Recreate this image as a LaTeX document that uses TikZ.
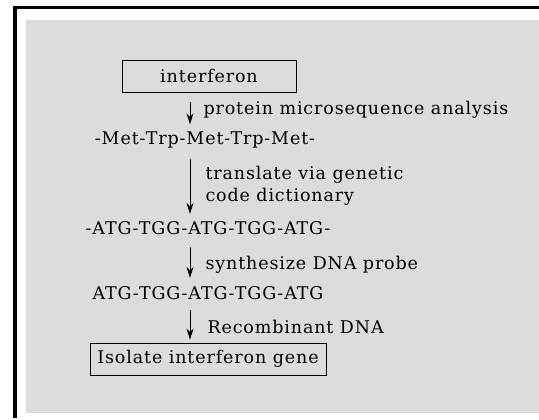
\documentclass[tikz,border=0pt]{standalone}
\usepackage{fontspec}
\setmainfont{DejaVu Serif}[LetterSpace=5]
\usepackage{xcolor}
\definecolor{PanelGray}{HTML}{DCDCDC}
\usepackage{tikz}
\usetikzlibrary{arrows.meta}
\tikzset{>=latex}
\tikzset{
	stepbox/.style={draw, line width=0.8, inner sep=0, minimum height=32},
	seqtext/.style={inner sep=0, font=\fontsize{17.5}{20}\selectfont},
	steplabel/.style={anchor=west, inner sep=0, align=left, font=\fontsize{17.5}{22}\selectfont},
	flow/.style={->, line width=1, >={Stealth[length=11,width=7]}}
}

\begin{document}
\begin{tikzpicture}[x=1pt, y=-1pt, line width=1]
		% Canvas
		\useasboundingbox (0,0) rectangle (539,420);
		\fill[PanelGray] (26,20) rectangle (539,413);
		\draw[line width=3] (13,8) -- (539,8);
		\draw[line width=4] (15,6) -- (15,418);
		
		% Spine of the arrows
		\coordinate (spine) at (190,0);
		
		% Steps
		\node[stepbox, seqtext, minimum width=174] (interferon) at (209,76) {interferon};
		\node[seqtext] (met) at (205,140) {-Met-Trp-Met-Trp-Met-};
		\node[seqtext] (codon) at (208,228) {-ATG-TGG-ATG-TGG-ATG-};
		\node[seqtext] (probe) at (208,293) {ATG-TGG-ATG-TGG-ATG};
		\node[stepbox, seqtext, minimum width=236] (gene) at (208,359) {Isolate interferon gene};
		
		% Arrows
		\draw[flow] ([yshift=-10]interferon.south -| spine) -- ([yshift=7]met.north -| spine);
		\draw[flow] ([yshift=-10]met.south -| spine) -- ([yshift=7]codon.north -| spine);
		\draw[flow] ([yshift=-12]codon.south -| spine) -- ([yshift=8]probe.north -| spine);
		\draw[flow] ([yshift=-10]probe.south -| spine) -- ([yshift=3]gene.north -| spine);
		
		% Labels
		\node[steplabel] (analysis) at (203,110) {protein microsequence analysis};
		\node[steplabel] (translate) at (205,186) {translate via genetic\\code dictionary};
		\node[steplabel] (synthesize) at (205,265) {synthesize DNA probe};
		\node[steplabel] (recombinant) at (207,327) {Recombinant DNA};
	\end{tikzpicture}
\end{document}
